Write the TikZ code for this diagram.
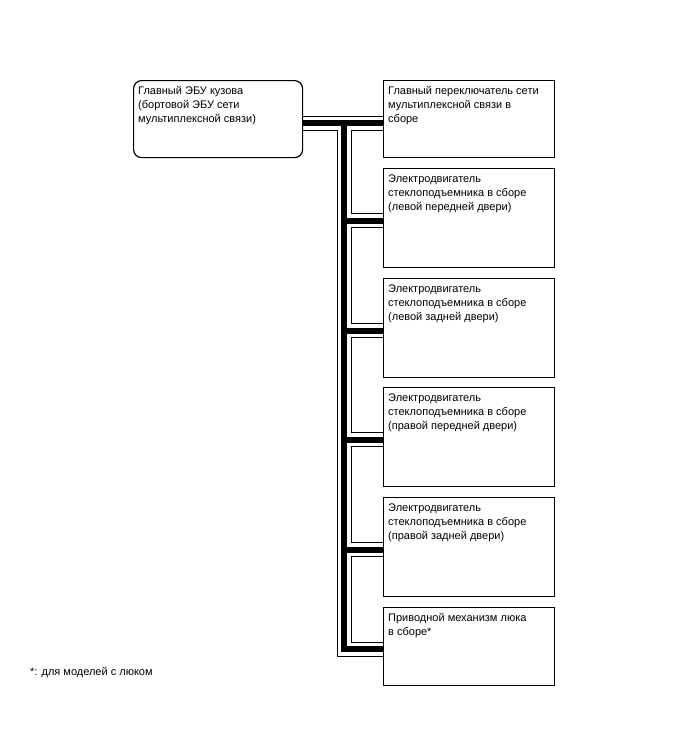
\documentclass[tikz,border=0pt]{standalone}
\usepackage{fontspec}
\setmainfont{Liberation Sans}
\usetikzlibrary{backgrounds}
\tikzset{
  unitbox/.style={draw=black, line width=1.2pt, fill=white, inner sep=0pt, anchor=north west},
  boxtext/.style={anchor=north west, inner sep=0pt, align=left, font=\fontsize{11}{14}\selectfont},
}
\newcommand{\fstrut}{\rule{0pt}{9.5pt}}
\begin{document}
\begin{tikzpicture}[x=1pt,y=-1pt]
\useasboundingbox (0,0) rectangle (688,755);
% boxes
\node[unitbox, rounded corners=8pt, minimum width=169pt, minimum height=77pt] (ecu) at (133,80) {};
\node[unitbox, minimum width=171pt, minimum height=77pt] (b1) at (383,80) {};
\node[unitbox, minimum width=171pt, minimum height=99pt] (b2) at (383,168) {};
\node[unitbox, minimum width=171pt, minimum height=99pt] (b3) at (383,278) {};
\node[unitbox, minimum width=171pt, minimum height=99pt] (b4) at (383,387) {};
\node[unitbox, minimum width=171pt, minimum height=99pt] (b5) at (383,497) {};
\node[unitbox, minimum width=171pt, minimum height=78pt] (b6) at (383,607) {};
% texts
\node[boxtext] (tecu) at ([xshift=5pt,yshift=-5pt]ecu.north west) {\fstrut Главный ЭБУ кузова\\(бортовой ЭБУ сети\\мультиплексной связи)};
\node[boxtext] (tb1) at ([xshift=5pt,yshift=-5pt]b1.north west) {\fstrut Главный переключатель сети\\мультиплексной связи в\\сборе};
\node[boxtext] (tb2) at ([xshift=5pt,yshift=-5pt]b2.north west) {\fstrut Электродвигатель\\стеклоподъемника в сборе\\(левой передней двери)};
\node[boxtext] (tb3) at ([xshift=5pt,yshift=-5pt]b3.north west) {\fstrut Электродвигатель\\стеклоподъемника в сборе\\(левой задней двери)};
\node[boxtext] (tb4) at ([xshift=5pt,yshift=-5pt]b4.north west) {\fstrut Электродвигатель\\стеклоподъемника в сборе\\(правой передней двери)};
\node[boxtext] (tb5) at ([xshift=5pt,yshift=-5pt]b5.north west) {\fstrut Электродвигатель\\стеклоподъемника в сборе\\(правой задней двери)};
\node[boxtext] (tb6) at ([xshift=5pt,yshift=-5pt]b6.north west) {\fstrut Приводной механизм люка\\в сборе*};
\node[boxtext] (note) at (30,666) {\fstrut *: для моделей с люком};
% cable
\coordinate (j0) at (344,123);
\begin{scope}[on background layer]
\fill[white] (0,0) rectangle (688,755);
\foreach \w/\c in {15/black, 13/white, 5.8/black}{
  \foreach \b in {b2,b3,b4,b5,b6}{
    \draw[line width=\w pt, draw=\c, line join=miter] (ecu.east |- j0) -- (j0) |- ([yshift=-2.5pt]\b.west);
  }
  \draw[line width=\w pt, draw=\c] (ecu.east |- j0) -- (b1.west |- j0);
}
\end{scope}
\end{tikzpicture}
\end{document}
